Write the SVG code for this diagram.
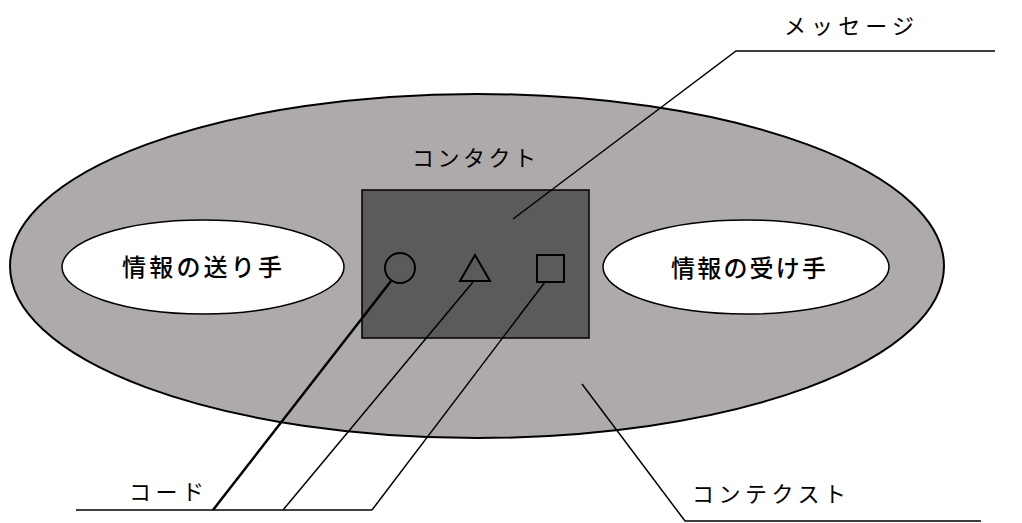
<svg xmlns="http://www.w3.org/2000/svg" width="1022" height="523" viewBox="0 0 1022 523">
<style>
.t{font-family:"Noto Sans CJK JP","Noto Sans CJK SC",sans-serif;fill:#000;}
.lbl{font-size:22px;}
.big{font-size:24px;font-weight:500;}
.ln{stroke:#000;stroke-width:1.5;fill:none;}
.shape{stroke:#000;stroke-width:2;fill:none;}
</style>
<rect width="1022" height="523" fill="#fff"/>
<g id="context">
<ellipse cx="477" cy="266" rx="467" ry="172" fill="#aeaaa9" stroke="#000" stroke-width="2"/>
</g>
<g id="contact">
<text class="t lbl" x="412" y="166" textLength="124">コンタクト</text>
</g>
<g id="message">
<rect x="362" y="190" width="227" height="148" fill="#5b5b5b" stroke="#000" stroke-width="1.5"/>
<circle class="shape" cx="400" cy="268" r="15"/>
<polygon class="shape" points="475,255 490,281 460,281"/>
<rect class="shape" x="537" y="255" width="27" height="27"/>
</g>
<g id="sender">
<ellipse cx="203" cy="267" rx="141" ry="47" fill="#fff" stroke="#000" stroke-width="1.5"/>
<text class="t big" x="122" y="276" textLength="160">情報の送り手</text>
</g>
<g id="receiver">
<ellipse cx="746" cy="267" rx="143" ry="47" fill="#fff" stroke="#000" stroke-width="1.5"/>
<text class="t big" x="671" y="277" textLength="155">情報の受け手</text>
</g>
<g id="connectors">
<polyline class="ln" points="513,219 736,51 995,51"/>
<polyline class="ln" points="582,384 685,521 981,521"/>
<line x1="391" y1="281" x2="213" y2="510" stroke="#000" stroke-width="2.5"/>
<polyline class="ln" points="473,282 283,510"/>
<polyline class="ln" points="545,282 372,510"/>
<line class="ln" x1="76" y1="510" x2="372" y2="510"/>
</g>
<g id="labels">
<text class="t lbl" x="784" y="34" textLength="130">メッセージ</text>
<text class="t lbl" x="129" y="500" textLength="75">コード</text>
<text class="t lbl" x="692" y="502" textLength="154">コンテクスト</text>
</g>
</svg>
